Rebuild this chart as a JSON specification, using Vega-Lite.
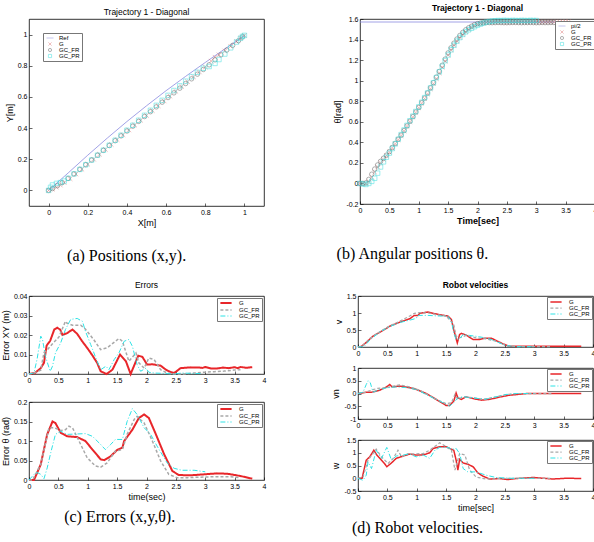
{
"$schema": "https://vega.github.io/schema/vega-lite/v6.json",
"background": "white",
"padding": {"left": 0, "top": 3, "right": 0, "bottom": 0},
"config": {
  "view": {"stroke": "#000", "strokeWidth": 0.8},
  "axis": {"grid": false, "domain": false, "ticks": true, "tickSize": -3, "tickColor": "#000", "tickWidth": 0.6, "labelFont": "Liberation Sans", "labelFontSize": 7, "labelColor": "#000", "labelPadding": 5, "labelFlush": false, "labelOverlap": false, "titleFont": "Liberation Sans", "titleFontSize": 9, "titleFontWeight": "normal", "titleColor": "#000", "titlePadding": 3},
  "title": {"font": "Liberation Sans", "fontSize": 8.5, "fontWeight": "normal", "color": "#000", "offset": 3},
  "legend": {"title": null, "padding": 2, "strokeColor": "#777", "fillColor": "#fff", "labelFont": "Liberation Sans", "labelFontSize": 6, "labelColor": "#000", "rowPadding": 0, "labelOffset": 3, "symbolStrokeWidth": 0.7}
},
"datasets": {
  "pos": [
    {"s":"Ref","x":0,"y":0},{"s":"Ref","x":0.1,"y":0.112},{"s":"Ref","x":0.2,"y":0.226},{"s":"Ref","x":0.3,"y":0.336},{"s":"Ref","x":0.4,"y":0.442},{"s":"Ref","x":0.5,"y":0.543},{"s":"Ref","x":0.6,"y":0.64},{"s":"Ref","x":0.7,"y":0.732},{"s":"Ref","x":0.8,"y":0.821},{"s":"Ref","x":0.9,"y":0.908},{"s":"Ref","x":1,"y":0.993},
    {"s":"G","x":0,"y":0},{"s":"G","x":0.02,"y":0.008},{"s":"G","x":0.04,"y":0.02},{"s":"G","x":0.06,"y":0.034},{"s":"G","x":0.08,"y":0.05},{"s":"G","x":0.11,"y":0.075},{"s":"G","x":0.14,"y":0.105},{"s":"G","x":0.17,"y":0.136},{"s":"G","x":0.2,"y":0.168},{"s":"G","x":0.23,"y":0.2},{"s":"G","x":0.26,"y":0.232},{"s":"G","x":0.29,"y":0.263},{"s":"G","x":0.32,"y":0.295},{"s":"G","x":0.35,"y":0.326},{"s":"G","x":0.38,"y":0.357},{"s":"G","x":0.41,"y":0.388},{"s":"G","x":0.44,"y":0.419},{"s":"G","x":0.47,"y":0.45},{"s":"G","x":0.5,"y":0.481},{"s":"G","x":0.53,"y":0.512},{"s":"G","x":0.56,"y":0.543},{"s":"G","x":0.59,"y":0.574},{"s":"G","x":0.62,"y":0.605},{"s":"G","x":0.65,"y":0.636},{"s":"G","x":0.68,"y":0.667},{"s":"G","x":0.71,"y":0.698},{"s":"G","x":0.74,"y":0.729},{"s":"G","x":0.77,"y":0.76},{"s":"G","x":0.8,"y":0.792},{"s":"G","x":0.83,"y":0.83},{"s":"G","x":0.85,"y":0.855},{"s":"G","x":0.87,"y":0.87},{"s":"G","x":0.9,"y":0.895},{"s":"G","x":0.93,"y":0.925},{"s":"G","x":0.96,"y":0.955},{"s":"G","x":0.98,"y":0.977},{"s":"G","x":1.0,"y":0.995},
    {"s":"GC_FR","x":0,"y":0},{"s":"GC_FR","x":0.02,"y":0.012},{"s":"GC_FR","x":0.045,"y":0.03},{"s":"GC_FR","x":0.07,"y":0.05},{"s":"GC_FR","x":0.1,"y":0.077},{"s":"GC_FR","x":0.13,"y":0.106},{"s":"GC_FR","x":0.16,"y":0.135},{"s":"GC_FR","x":0.19,"y":0.165},{"s":"GC_FR","x":0.22,"y":0.195},{"s":"GC_FR","x":0.25,"y":0.226},{"s":"GC_FR","x":0.28,"y":0.257},{"s":"GC_FR","x":0.31,"y":0.288},{"s":"GC_FR","x":0.34,"y":0.319},{"s":"GC_FR","x":0.37,"y":0.35},{"s":"GC_FR","x":0.4,"y":0.381},{"s":"GC_FR","x":0.43,"y":0.412},{"s":"GC_FR","x":0.46,"y":0.443},{"s":"GC_FR","x":0.49,"y":0.474},{"s":"GC_FR","x":0.52,"y":0.505},{"s":"GC_FR","x":0.55,"y":0.536},{"s":"GC_FR","x":0.58,"y":0.566},{"s":"GC_FR","x":0.61,"y":0.596},{"s":"GC_FR","x":0.64,"y":0.626},{"s":"GC_FR","x":0.67,"y":0.656},{"s":"GC_FR","x":0.7,"y":0.686},{"s":"GC_FR","x":0.73,"y":0.716},{"s":"GC_FR","x":0.76,"y":0.746},{"s":"GC_FR","x":0.79,"y":0.776},{"s":"GC_FR","x":0.82,"y":0.806},{"s":"GC_FR","x":0.85,"y":0.838},{"s":"GC_FR","x":0.88,"y":0.87},{"s":"GC_FR","x":0.91,"y":0.901},{"s":"GC_FR","x":0.94,"y":0.931},{"s":"GC_FR","x":0.97,"y":0.961},{"s":"GC_FR","x":0.99,"y":0.985},
    {"s":"GC_PR","x":0,"y":0},{"s":"GC_PR","x":0.01,"y":0.02},{"s":"GC_PR","x":0.02,"y":0.035},{"s":"GC_PR","x":0.04,"y":0.045},{"s":"GC_PR","x":0.06,"y":0.05},{"s":"GC_PR","x":0.08,"y":0.06},{"s":"GC_PR","x":0.1,"y":0.078},{"s":"GC_PR","x":0.13,"y":0.106},{"s":"GC_PR","x":0.16,"y":0.135},{"s":"GC_PR","x":0.19,"y":0.165},{"s":"GC_PR","x":0.22,"y":0.195},{"s":"GC_PR","x":0.25,"y":0.226},{"s":"GC_PR","x":0.28,"y":0.258},{"s":"GC_PR","x":0.31,"y":0.29},{"s":"GC_PR","x":0.34,"y":0.322},{"s":"GC_PR","x":0.37,"y":0.354},{"s":"GC_PR","x":0.4,"y":0.386},{"s":"GC_PR","x":0.43,"y":0.418},{"s":"GC_PR","x":0.46,"y":0.45},{"s":"GC_PR","x":0.49,"y":0.482},{"s":"GC_PR","x":0.52,"y":0.514},{"s":"GC_PR","x":0.55,"y":0.546},{"s":"GC_PR","x":0.58,"y":0.578},{"s":"GC_PR","x":0.61,"y":0.61},{"s":"GC_PR","x":0.64,"y":0.641},{"s":"GC_PR","x":0.67,"y":0.671},{"s":"GC_PR","x":0.7,"y":0.701},{"s":"GC_PR","x":0.73,"y":0.73},{"s":"GC_PR","x":0.76,"y":0.758},{"s":"GC_PR","x":0.79,"y":0.784},{"s":"GC_PR","x":0.82,"y":0.795},{"s":"GC_PR","x":0.85,"y":0.815},{"s":"GC_PR","x":0.87,"y":0.84},{"s":"GC_PR","x":0.9,"y":0.875},{"s":"GC_PR","x":0.93,"y":0.915},{"s":"GC_PR","x":0.96,"y":0.952},{"s":"GC_PR","x":0.98,"y":0.976},{"s":"GC_PR","x":0.99,"y":0.988},{"s":"GC_PR","x":1.0,"y":0.995}
  ],
  "theta": [
    {"s":"pi/2","t":0,"y":1.5708},{"s":"pi/2","t":4,"y":1.5708},
    {"s":"G","t":0,"y":0},{"s":"G","t":0.05,"y":0},{"s":"G","t":0.1,"y":0},{"s":"G","t":0.15,"y":0.02},{"s":"G","t":0.2,"y":0.06},{"s":"G","t":0.25,"y":0.11},{"s":"G","t":0.3,"y":0.16},{"s":"G","t":0.35,"y":0.2},{"s":"G","t":0.4,"y":0.235},{"s":"G","t":0.45,"y":0.27},{"s":"G","t":0.5,"y":0.305},{"s":"G","t":0.55,"y":0.345},{"s":"G","t":0.6,"y":0.385},{"s":"G","t":0.65,"y":0.425},{"s":"G","t":0.7,"y":0.465},{"s":"G","t":0.75,"y":0.51},{"s":"G","t":0.8,"y":0.555},{"s":"G","t":0.85,"y":0.6},{"s":"G","t":0.9,"y":0.645},{"s":"G","t":0.95,"y":0.69},{"s":"G","t":1.0,"y":0.735},{"s":"G","t":1.05,"y":0.78},{"s":"G","t":1.1,"y":0.825},{"s":"G","t":1.15,"y":0.87},{"s":"G","t":1.2,"y":0.92},{"s":"G","t":1.25,"y":0.97},{"s":"G","t":1.3,"y":1.02},{"s":"G","t":1.35,"y":1.075},{"s":"G","t":1.4,"y":1.13},{"s":"G","t":1.45,"y":1.19},{"s":"G","t":1.5,"y":1.25},{"s":"G","t":1.55,"y":1.3},{"s":"G","t":1.6,"y":1.345},{"s":"G","t":1.65,"y":1.385},{"s":"G","t":1.7,"y":1.42},{"s":"G","t":1.75,"y":1.45},{"s":"G","t":1.8,"y":1.475},{"s":"G","t":1.85,"y":1.5},{"s":"G","t":1.9,"y":1.52},{"s":"G","t":1.95,"y":1.535},{"s":"G","t":2.0,"y":1.548},{"s":"G","t":2.05,"y":1.557},{"s":"G","t":2.1,"y":1.563},{"s":"G","t":2.15,"y":1.567},{"s":"G","t":2.2,"y":1.57},{"s":"G","t":2.25,"y":1.571},{"s":"G","t":2.3,"y":1.572},{"s":"G","t":2.35,"y":1.571},{"s":"G","t":2.4,"y":1.57},{"s":"G","t":2.45,"y":1.569},{"s":"G","t":2.5,"y":1.569},{"s":"G","t":2.55,"y":1.57},{"s":"G","t":2.6,"y":1.571},{"s":"G","t":2.65,"y":1.572},{"s":"G","t":2.7,"y":1.572},{"s":"G","t":2.75,"y":1.571},{"s":"G","t":2.8,"y":1.57},{"s":"G","t":2.85,"y":1.57},{"s":"G","t":2.9,"y":1.571},{"s":"G","t":2.95,"y":1.571},{"s":"G","t":3.0,"y":1.572},{"s":"G","t":3.05,"y":1.571},{"s":"G","t":3.1,"y":1.57},{"s":"G","t":3.15,"y":1.57},{"s":"G","t":3.2,"y":1.571},{"s":"G","t":3.25,"y":1.572},{"s":"G","t":3.3,"y":1.572},{"s":"G","t":3.35,"y":1.571},{"s":"G","t":3.4,"y":1.571},{"s":"G","t":3.45,"y":1.572},{"s":"G","t":3.5,"y":1.573},{"s":"G","t":3.55,"y":1.573},
    {"s":"GC_FR","t":0,"y":0},{"s":"GC_FR","t":0.05,"y":0},{"s":"GC_FR","t":0.1,"y":0.005},{"s":"GC_FR","t":0.15,"y":0.04},{"s":"GC_FR","t":0.2,"y":0.09},{"s":"GC_FR","t":0.25,"y":0.14},{"s":"GC_FR","t":0.3,"y":0.18},{"s":"GC_FR","t":0.35,"y":0.215},{"s":"GC_FR","t":0.4,"y":0.245},{"s":"GC_FR","t":0.45,"y":0.275},{"s":"GC_FR","t":0.5,"y":0.31},{"s":"GC_FR","t":0.55,"y":0.35},{"s":"GC_FR","t":0.6,"y":0.39},{"s":"GC_FR","t":0.65,"y":0.43},{"s":"GC_FR","t":0.7,"y":0.47},{"s":"GC_FR","t":0.75,"y":0.515},{"s":"GC_FR","t":0.8,"y":0.56},{"s":"GC_FR","t":0.85,"y":0.605},{"s":"GC_FR","t":0.9,"y":0.65},{"s":"GC_FR","t":0.95,"y":0.695},{"s":"GC_FR","t":1.0,"y":0.74},{"s":"GC_FR","t":1.05,"y":0.785},{"s":"GC_FR","t":1.1,"y":0.83},{"s":"GC_FR","t":1.15,"y":0.88},{"s":"GC_FR","t":1.2,"y":0.93},{"s":"GC_FR","t":1.25,"y":0.98},{"s":"GC_FR","t":1.3,"y":1.035},{"s":"GC_FR","t":1.35,"y":1.09},{"s":"GC_FR","t":1.4,"y":1.15},{"s":"GC_FR","t":1.45,"y":1.21},{"s":"GC_FR","t":1.5,"y":1.27},{"s":"GC_FR","t":1.55,"y":1.32},{"s":"GC_FR","t":1.6,"y":1.365},{"s":"GC_FR","t":1.65,"y":1.405},{"s":"GC_FR","t":1.7,"y":1.44},{"s":"GC_FR","t":1.75,"y":1.47},{"s":"GC_FR","t":1.8,"y":1.495},{"s":"GC_FR","t":1.85,"y":1.515},{"s":"GC_FR","t":1.9,"y":1.53},{"s":"GC_FR","t":1.95,"y":1.545},{"s":"GC_FR","t":2.0,"y":1.555},{"s":"GC_FR","t":2.05,"y":1.56},{"s":"GC_FR","t":2.1,"y":1.563},{"s":"GC_FR","t":2.15,"y":1.565},{"s":"GC_FR","t":2.2,"y":1.565},{"s":"GC_FR","t":2.25,"y":1.564},{"s":"GC_FR","t":2.3,"y":1.565},{"s":"GC_FR","t":2.35,"y":1.566},{"s":"GC_FR","t":2.4,"y":1.565},{"s":"GC_FR","t":2.45,"y":1.564},{"s":"GC_FR","t":2.5,"y":1.564},{"s":"GC_FR","t":2.55,"y":1.565},{"s":"GC_FR","t":2.6,"y":1.566},{"s":"GC_FR","t":2.65,"y":1.566},{"s":"GC_FR","t":2.7,"y":1.565},{"s":"GC_FR","t":2.75,"y":1.564},{"s":"GC_FR","t":2.8,"y":1.565},{"s":"GC_FR","t":2.85,"y":1.565},{"s":"GC_FR","t":2.9,"y":1.566},{"s":"GC_FR","t":2.95,"y":1.565},{"s":"GC_FR","t":3.0,"y":1.564},{"s":"GC_FR","t":3.05,"y":1.565},{"s":"GC_FR","t":3.1,"y":1.566},{"s":"GC_FR","t":3.15,"y":1.565},{"s":"GC_FR","t":3.2,"y":1.565},{"s":"GC_FR","t":3.25,"y":1.566},{"s":"GC_FR","t":3.3,"y":1.566},
    {"s":"GC_PR","t":0,"y":0},{"s":"GC_PR","t":0.05,"y":-0.005},{"s":"GC_PR","t":0.1,"y":-0.01},{"s":"GC_PR","t":0.15,"y":0},{"s":"GC_PR","t":0.2,"y":0.02},{"s":"GC_PR","t":0.25,"y":0.05},{"s":"GC_PR","t":0.3,"y":0.1},{"s":"GC_PR","t":0.35,"y":0.16},{"s":"GC_PR","t":0.4,"y":0.21},{"s":"GC_PR","t":0.45,"y":0.255},{"s":"GC_PR","t":0.5,"y":0.295},{"s":"GC_PR","t":0.55,"y":0.34},{"s":"GC_PR","t":0.6,"y":0.385},{"s":"GC_PR","t":0.65,"y":0.43},{"s":"GC_PR","t":0.7,"y":0.475},{"s":"GC_PR","t":0.75,"y":0.52},{"s":"GC_PR","t":0.8,"y":0.565},{"s":"GC_PR","t":0.85,"y":0.61},{"s":"GC_PR","t":0.9,"y":0.655},{"s":"GC_PR","t":0.95,"y":0.7},{"s":"GC_PR","t":1.0,"y":0.745},{"s":"GC_PR","t":1.05,"y":0.79},{"s":"GC_PR","t":1.1,"y":0.835},{"s":"GC_PR","t":1.15,"y":0.88},{"s":"GC_PR","t":1.2,"y":0.93},{"s":"GC_PR","t":1.25,"y":0.98},{"s":"GC_PR","t":1.3,"y":1.03},{"s":"GC_PR","t":1.35,"y":1.085},{"s":"GC_PR","t":1.4,"y":1.14},{"s":"GC_PR","t":1.45,"y":1.195},{"s":"GC_PR","t":1.5,"y":1.25},{"s":"GC_PR","t":1.55,"y":1.3},{"s":"GC_PR","t":1.6,"y":1.345},{"s":"GC_PR","t":1.65,"y":1.385},{"s":"GC_PR","t":1.7,"y":1.42},{"s":"GC_PR","t":1.75,"y":1.45},{"s":"GC_PR","t":1.8,"y":1.475},{"s":"GC_PR","t":1.85,"y":1.495},{"s":"GC_PR","t":1.9,"y":1.51},{"s":"GC_PR","t":1.95,"y":1.525},{"s":"GC_PR","t":2.0,"y":1.54},{"s":"GC_PR","t":2.05,"y":1.55},{"s":"GC_PR","t":2.1,"y":1.56},{"s":"GC_PR","t":2.15,"y":1.57},{"s":"GC_PR","t":2.2,"y":1.575},{"s":"GC_PR","t":2.25,"y":1.58},{"s":"GC_PR","t":2.3,"y":1.583},{"s":"GC_PR","t":2.35,"y":1.585},{"s":"GC_PR","t":2.4,"y":1.584},{"s":"GC_PR","t":2.45,"y":1.586},{"s":"GC_PR","t":2.5,"y":1.585},{"s":"GC_PR","t":2.55,"y":1.584},{"s":"GC_PR","t":2.6,"y":1.586},{"s":"GC_PR","t":2.65,"y":1.585},{"s":"GC_PR","t":2.7,"y":1.584},{"s":"GC_PR","t":2.75,"y":1.586},{"s":"GC_PR","t":2.8,"y":1.585},{"s":"GC_PR","t":2.85,"y":1.584},{"s":"GC_PR","t":2.9,"y":1.586},{"s":"GC_PR","t":2.95,"y":1.585},{"s":"GC_PR","t":3.0,"y":1.585}
  ],
  "exy": [
    {"s":"G","t":0,"y":0},{"s":"G","t":0.1,"y":0.0005},{"s":"G","t":0.2,"y":0.003},{"s":"G","t":0.255,"y":0.0057},{"s":"G","t":0.3,"y":0.0146},{"s":"G","t":0.36,"y":0.017},{"s":"G","t":0.43,"y":0.0228},{"s":"G","t":0.48,"y":0.0237},{"s":"G","t":0.53,"y":0.0228},{"s":"G","t":0.57,"y":0.02},{"s":"G","t":0.65,"y":0.021},{"s":"G","t":0.74,"y":0.0228},{"s":"G","t":0.82,"y":0.0206},{"s":"G","t":0.9,"y":0.017},{"s":"G","t":0.99,"y":0.0134},{"s":"G","t":1.08,"y":0.0095},{"s":"G","t":1.16,"y":0.0057},{"s":"G","t":1.22,"y":0.0014},{"s":"G","t":1.32,"y":0},{"s":"G","t":1.42,"y":0.0022},{"s":"G","t":1.55,"y":0.01},{"s":"G","t":1.65,"y":0.0065},{"s":"G","t":1.73,"y":0},{"s":"G","t":1.86,"y":0.0094},{"s":"G","t":1.93,"y":0.0088},{"s":"G","t":2.01,"y":0.0048},{"s":"G","t":2.1,"y":0.005},{"s":"G","t":2.24,"y":0.0043},{"s":"G","t":2.33,"y":0.0022},{"s":"G","t":2.41,"y":0.001},{"s":"G","t":2.47,"y":0.0005},{"s":"G","t":2.58,"y":0.003},{"s":"G","t":2.75,"y":0.0034},{"s":"G","t":2.9,"y":0.0033},{"s":"G","t":2.95,"y":0.0031},{"s":"G","t":3.0,"y":0.0036},{"s":"G","t":3.1,"y":0.0028},{"s":"G","t":3.2,"y":0.0028},{"s":"G","t":3.3,"y":0.0033},{"s":"G","t":3.4,"y":0.003},{"s":"G","t":3.5,"y":0.0035},{"s":"G","t":3.55,"y":0.003},{"s":"G","t":3.6,"y":0.0036},{"s":"G","t":3.7,"y":0.0032},{"s":"G","t":3.8,"y":0.0035},
    {"s":"GC_FR","t":0,"y":0},{"s":"GC_FR","t":0.085,"y":0.0005},{"s":"GC_FR","t":0.2,"y":0.002},{"s":"GC_FR","t":0.255,"y":0.011},{"s":"GC_FR","t":0.3,"y":0.012},{"s":"GC_FR","t":0.4,"y":0.0155},{"s":"GC_FR","t":0.51,"y":0.019},{"s":"GC_FR","t":0.62,"y":0.027},{"s":"GC_FR","t":0.65,"y":0.026},{"s":"GC_FR","t":0.74,"y":0.025},{"s":"GC_FR","t":0.88,"y":0.025},{"s":"GC_FR","t":0.96,"y":0.023},{"s":"GC_FR","t":1.1,"y":0.0177},{"s":"GC_FR","t":1.22,"y":0.0125},{"s":"GC_FR","t":1.33,"y":0.0134},{"s":"GC_FR","t":1.53,"y":0.0182},{"s":"GC_FR","t":1.59,"y":0.0168},{"s":"GC_FR","t":1.7,"y":0.0065},{"s":"GC_FR","t":1.82,"y":0.0108},{"s":"GC_FR","t":1.87,"y":0.0057},{"s":"GC_FR","t":1.96,"y":0.003},{"s":"GC_FR","t":2.04,"y":0.0082},{"s":"GC_FR","t":2.13,"y":0.0074},{"s":"GC_FR","t":2.24,"y":0.0022},{"s":"GC_FR","t":2.35,"y":0.0005},{"s":"GC_FR","t":2.47,"y":0},{"s":"GC_FR","t":2.64,"y":0},{"s":"GC_FR","t":2.81,"y":0.0005},{"s":"GC_FR","t":2.98,"y":0.0009},{"s":"GC_FR","t":3.15,"y":0.0012},{"s":"GC_FR","t":3.32,"y":0.0015},{"s":"GC_FR","t":3.49,"y":0.002},{"s":"GC_FR","t":3.6,"y":0.0022},
    {"s":"GC_PR","t":0,"y":0},{"s":"GC_PR","t":0.085,"y":0.0005},{"s":"GC_PR","t":0.14,"y":0.008},{"s":"GC_PR","t":0.2,"y":0.0194},{"s":"GC_PR","t":0.23,"y":0.0177},{"s":"GC_PR","t":0.28,"y":0.009},{"s":"GC_PR","t":0.36,"y":0.0014},{"s":"GC_PR","t":0.4,"y":0.004},{"s":"GC_PR","t":0.45,"y":0.0108},{"s":"GC_PR","t":0.54,"y":0.016},{"s":"GC_PR","t":0.62,"y":0.0228},{"s":"GC_PR","t":0.71,"y":0.028},{"s":"GC_PR","t":0.82,"y":0.0285},{"s":"GC_PR","t":0.91,"y":0.027},{"s":"GC_PR","t":0.96,"y":0.022},{"s":"GC_PR","t":1.05,"y":0.0151},{"s":"GC_PR","t":1.16,"y":0.0065},{"s":"GC_PR","t":1.22,"y":0.0022},{"s":"GC_PR","t":1.31,"y":0.004},{"s":"GC_PR","t":1.36,"y":0.0022},{"s":"GC_PR","t":1.45,"y":0.0074},{"s":"GC_PR","t":1.53,"y":0.0108},{"s":"GC_PR","t":1.62,"y":0.0168},{"s":"GC_PR","t":1.7,"y":0.0177},{"s":"GC_PR","t":1.76,"y":0.0142},{"s":"GC_PR","t":1.84,"y":0.0048},{"s":"GC_PR","t":1.9,"y":0.0014},{"s":"GC_PR","t":1.99,"y":0.003},{"s":"GC_PR","t":2.04,"y":0.0009},{"s":"GC_PR","t":2.13,"y":0.0005},{"s":"GC_PR","t":2.3,"y":0.0003},{"s":"GC_PR","t":2.47,"y":0},{"s":"GC_PR","t":2.6,"y":0.0005},{"s":"GC_PR","t":2.8,"y":0.0003},{"s":"GC_PR","t":2.95,"y":0.0002}
  ],
  "eth": [
    {"s":"G","t":0,"y":0},{"s":"G","t":0.085,"y":0},{"s":"G","t":0.2,"y":0.04},{"s":"G","t":0.31,"y":0.117},{"s":"G","t":0.4,"y":0.15},{"s":"G","t":0.45,"y":0.146},{"s":"G","t":0.54,"y":0.121},{"s":"G","t":0.65,"y":0.112},{"s":"G","t":0.82,"y":0.11},{"s":"G","t":0.96,"y":0.1},{"s":"G","t":1.08,"y":0.078},{"s":"G","t":1.22,"y":0.053},{"s":"G","t":1.28,"y":0.051},{"s":"G","t":1.39,"y":0.061},{"s":"G","t":1.5,"y":0.077},{"s":"G","t":1.59,"y":0.083},{"s":"G","t":1.62,"y":0.1},{"s":"G","t":1.76,"y":0.129},{"s":"G","t":1.87,"y":0.159},{"s":"G","t":1.96,"y":0.168},{"s":"G","t":2.04,"y":0.159},{"s":"G","t":2.16,"y":0.117},{"s":"G","t":2.3,"y":0.066},{"s":"G","t":2.44,"y":0.023},{"s":"G","t":2.55,"y":0.0128},{"s":"G","t":2.75,"y":0.012},{"s":"G","t":2.98,"y":0.0145},{"s":"G","t":3.2,"y":0.017},{"s":"G","t":3.38,"y":0.016},{"s":"G","t":3.6,"y":0.0102},{"s":"G","t":3.8,"y":0.0034},
    {"s":"GC_FR","t":0,"y":0},{"s":"GC_FR","t":0.06,"y":0},{"s":"GC_FR","t":0.2,"y":0.04},{"s":"GC_FR","t":0.34,"y":0.134},{"s":"GC_FR","t":0.43,"y":0.134},{"s":"GC_FR","t":0.54,"y":0.127},{"s":"GC_FR","t":0.62,"y":0.129},{"s":"GC_FR","t":0.68,"y":0.138},{"s":"GC_FR","t":0.74,"y":0.134},{"s":"GC_FR","t":0.88,"y":0.091},{"s":"GC_FR","t":0.99,"y":0.057},{"s":"GC_FR","t":1.13,"y":0.036},{"s":"GC_FR","t":1.22,"y":0.033},{"s":"GC_FR","t":1.33,"y":0.044},{"s":"GC_FR","t":1.47,"y":0.074},{"s":"GC_FR","t":1.59,"y":0.078},{"s":"GC_FR","t":1.67,"y":0.117},{"s":"GC_FR","t":1.79,"y":0.155},{"s":"GC_FR","t":1.84,"y":0.163},{"s":"GC_FR","t":1.96,"y":0.146},{"s":"GC_FR","t":2.1,"y":0.1},{"s":"GC_FR","t":2.24,"y":0.049},{"s":"GC_FR","t":2.38,"y":0.0145},{"s":"GC_FR","t":2.52,"y":0.006},{"s":"GC_FR","t":2.7,"y":0.006},{"s":"GC_FR","t":2.98,"y":0.0077},{"s":"GC_FR","t":3.2,"y":0.0085},{"s":"GC_FR","t":3.43,"y":0.0085},{"s":"GC_FR","t":3.6,"y":0.006},
    {"s":"GC_PR","t":0,"y":0},{"s":"GC_PR","t":0.085,"y":0.0145},{"s":"GC_PR","t":0.14,"y":0.019},{"s":"GC_PR","t":0.2,"y":0.0145},{"s":"GC_PR","t":0.255,"y":0.0034},{"s":"GC_PR","t":0.31,"y":0.031},{"s":"GC_PR","t":0.37,"y":0.07},{"s":"GC_PR","t":0.45,"y":0.117},{"s":"GC_PR","t":0.54,"y":0.125},{"s":"GC_PR","t":0.65,"y":0.117},{"s":"GC_PR","t":0.82,"y":0.118},{"s":"GC_PR","t":0.96,"y":0.119},{"s":"GC_PR","t":1.08,"y":0.112},{"s":"GC_PR","t":1.22,"y":0.091},{"s":"GC_PR","t":1.3,"y":0.078},{"s":"GC_PR","t":1.39,"y":0.091},{"s":"GC_PR","t":1.47,"y":0.104},{"s":"GC_PR","t":1.59,"y":0.104},{"s":"GC_PR","t":1.67,"y":0.15},{"s":"GC_PR","t":1.76,"y":0.183},{"s":"GC_PR","t":1.84,"y":0.168},{"s":"GC_PR","t":1.96,"y":0.134},{"s":"GC_PR","t":2.07,"y":0.117},{"s":"GC_PR","t":2.18,"y":0.087},{"s":"GC_PR","t":2.35,"y":0.044},{"s":"GC_PR","t":2.47,"y":0.03},{"s":"GC_PR","t":2.6,"y":0.025},{"s":"GC_PR","t":2.81,"y":0.025},{"s":"GC_PR","t":3.0,"y":0.021}
  ],
  "v": [
    {"s":"G","t":0,"y":0},{"s":"G","t":0.06,"y":0.02},{"s":"G","t":0.15,"y":0.15},{"s":"G","t":0.255,"y":0.32},{"s":"G","t":0.37,"y":0.43},{"s":"G","t":0.54,"y":0.61},{"s":"G","t":0.71,"y":0.73},{"s":"G","t":0.88,"y":0.83},{"s":"G","t":0.96,"y":0.93},{"s":"G","t":1.02,"y":0.93},{"s":"G","t":1.05,"y":0.99},{"s":"G","t":1.19,"y":1.03},{"s":"G","t":1.28,"y":0.99},{"s":"G","t":1.42,"y":0.94},{"s":"G","t":1.53,"y":0.91},{"s":"G","t":1.59,"y":0.81},{"s":"G","t":1.63,"y":0.51},{"s":"G","t":1.69,"y":0.12},{"s":"G","t":1.73,"y":0.37},{"s":"G","t":1.76,"y":0.4},{"s":"G","t":1.84,"y":0.35},{"s":"G","t":1.96,"y":0.22},{"s":"G","t":2.07,"y":0.22},{"s":"G","t":2.16,"y":0.26},{"s":"G","t":2.27,"y":0.26},{"s":"G","t":2.35,"y":0.19},{"s":"G","t":2.47,"y":0.09},{"s":"G","t":2.58,"y":0.02},{"s":"G","t":2.8,"y":0.02},{"s":"G","t":3.2,"y":0.02},{"s":"G","t":3.5,"y":0.02},{"s":"G","t":3.8,"y":0.02},
    {"s":"GC_FR","t":0,"y":0},{"s":"GC_FR","t":0.06,"y":0.01},{"s":"GC_FR","t":0.2,"y":0.25},{"s":"GC_FR","t":0.37,"y":0.45},{"s":"GC_FR","t":0.54,"y":0.62},{"s":"GC_FR","t":0.71,"y":0.76},{"s":"GC_FR","t":0.88,"y":0.91},{"s":"GC_FR","t":0.96,"y":0.99},{"s":"GC_FR","t":1.05,"y":1.01},{"s":"GC_FR","t":1.2,"y":1.0},{"s":"GC_FR","t":1.35,"y":0.95},{"s":"GC_FR","t":1.5,"y":0.91},{"s":"GC_FR","t":1.63,"y":0.66},{"s":"GC_FR","t":1.67,"y":0.32},{"s":"GC_FR","t":1.73,"y":0.27},{"s":"GC_FR","t":1.84,"y":0.34},{"s":"GC_FR","t":2.01,"y":0.27},{"s":"GC_FR","t":2.18,"y":0.24},{"s":"GC_FR","t":2.35,"y":0.17},{"s":"GC_FR","t":2.52,"y":0.04},{"s":"GC_FR","t":2.7,"y":0.01},{"s":"GC_FR","t":3.3,"y":0.01},
    {"s":"GC_PR","t":0,"y":0},{"s":"GC_PR","t":0.1,"y":0.01},{"s":"GC_PR","t":0.2,"y":0.2},{"s":"GC_PR","t":0.37,"y":0.44},{"s":"GC_PR","t":0.54,"y":0.6},{"s":"GC_PR","t":0.71,"y":0.72},{"s":"GC_PR","t":0.88,"y":0.79},{"s":"GC_PR","t":0.99,"y":0.84},{"s":"GC_PR","t":1.02,"y":0.93},{"s":"GC_PR","t":1.19,"y":0.93},{"s":"GC_PR","t":1.39,"y":0.91},{"s":"GC_PR","t":1.53,"y":0.91},{"s":"GC_PR","t":1.59,"y":0.76},{"s":"GC_PR","t":1.63,"y":0.41},{"s":"GC_PR","t":1.67,"y":0.22},{"s":"GC_PR","t":1.73,"y":0.24},{"s":"GC_PR","t":1.79,"y":0.37},{"s":"GC_PR","t":1.9,"y":0.34},{"s":"GC_PR","t":2.07,"y":0.3},{"s":"GC_PR","t":2.24,"y":0.24},{"s":"GC_PR","t":2.41,"y":0.12},{"s":"GC_PR","t":2.52,"y":0.04},{"s":"GC_PR","t":2.7,"y":0.01},{"s":"GC_PR","t":3.0,"y":0.01}
  ],
  "vn": [
    {"s":"G","t":0,"y":0},{"s":"G","t":0.14,"y":0.05},{"s":"G","t":0.23,"y":0.05},{"s":"G","t":0.37,"y":0.13},{"s":"G","t":0.48,"y":0.25},{"s":"G","t":0.54,"y":0.35},{"s":"G","t":0.58,"y":0.26},{"s":"G","t":0.71,"y":0.29},{"s":"G","t":0.88,"y":0.23},{"s":"G","t":0.99,"y":0.16},{"s":"G","t":1.16,"y":0},{"s":"G","t":1.33,"y":-0.23},{"s":"G","t":1.5,"y":-0.47},{"s":"G","t":1.56,"y":-0.47},{"s":"G","t":1.63,"y":-0.3},{"s":"G","t":1.67,"y":0.02},{"s":"G","t":1.7,"y":-0.17},{"s":"G","t":1.76,"y":-0.23},{"s":"G","t":1.84,"y":-0.13},{"s":"G","t":1.96,"y":-0.2},{"s":"G","t":2.1,"y":-0.26},{"s":"G","t":2.24,"y":-0.23},{"s":"G","t":2.41,"y":-0.14},{"s":"G","t":2.58,"y":-0.065},{"s":"G","t":2.75,"y":-0.03},{"s":"G","t":2.87,"y":0},{"s":"G","t":3.3,"y":0},{"s":"G","t":3.8,"y":0},
    {"s":"GC_FR","t":0,"y":0},{"s":"GC_FR","t":0.1,"y":0.03},{"s":"GC_FR","t":0.255,"y":0.15},{"s":"GC_FR","t":0.33,"y":0.2},{"s":"GC_FR","t":0.48,"y":0.22},{"s":"GC_FR","t":0.6,"y":0.29},{"s":"GC_FR","t":0.71,"y":0.34},{"s":"GC_FR","t":0.88,"y":0.26},{"s":"GC_FR","t":1.05,"y":0.13},{"s":"GC_FR","t":1.28,"y":-0.17},{"s":"GC_FR","t":1.5,"y":-0.4},{"s":"GC_FR","t":1.59,"y":-0.36},{"s":"GC_FR","t":1.65,"y":-0.04},{"s":"GC_FR","t":1.7,"y":-0.23},{"s":"GC_FR","t":1.79,"y":-0.13},{"s":"GC_FR","t":1.96,"y":-0.17},{"s":"GC_FR","t":2.13,"y":-0.23},{"s":"GC_FR","t":2.35,"y":-0.13},{"s":"GC_FR","t":2.52,"y":-0.04},{"s":"GC_FR","t":2.7,"y":0},{"s":"GC_FR","t":3.3,"y":0},
    {"s":"GC_PR","t":0,"y":0},{"s":"GC_PR","t":0.085,"y":0.05},{"s":"GC_PR","t":0.14,"y":0.35},{"s":"GC_PR","t":0.17,"y":0.5},{"s":"GC_PR","t":0.21,"y":0.42},{"s":"GC_PR","t":0.255,"y":0.05},{"s":"GC_PR","t":0.34,"y":0.13},{"s":"GC_PR","t":0.48,"y":0.22},{"s":"GC_PR","t":0.65,"y":0.26},{"s":"GC_PR","t":0.82,"y":0.23},{"s":"GC_PR","t":0.99,"y":0.16},{"s":"GC_PR","t":1.16,"y":-0.04},{"s":"GC_PR","t":1.39,"y":-0.3},{"s":"GC_PR","t":1.56,"y":-0.49},{"s":"GC_PR","t":1.63,"y":-0.36},{"s":"GC_PR","t":1.7,"y":-0.17},{"s":"GC_PR","t":1.79,"y":-0.13},{"s":"GC_PR","t":1.96,"y":-0.17},{"s":"GC_PR","t":2.16,"y":-0.23},{"s":"GC_PR","t":2.35,"y":-0.13},{"s":"GC_PR","t":2.52,"y":-0.04},{"s":"GC_PR","t":2.7,"y":0},{"s":"GC_PR","t":3.0,"y":0}
  ],
  "w": [
    {"s":"G","t":0,"y":0},{"s":"G","t":0.07,"y":0},{"s":"G","t":0.14,"y":0.71},{"s":"G","t":0.2,"y":0.84},{"s":"G","t":0.27,"y":1.1},{"s":"G","t":0.32,"y":0.91},{"s":"G","t":0.4,"y":0.71},{"s":"G","t":0.45,"y":0.58},{"s":"G","t":0.49,"y":0.45},{"s":"G","t":0.57,"y":0.6},{"s":"G","t":0.65,"y":0.78},{"s":"G","t":0.77,"y":0.87},{"s":"G","t":0.88,"y":0.95},{"s":"G","t":0.99,"y":0.91},{"s":"G","t":1.08,"y":0.91},{"s":"G","t":1.16,"y":0.95},{"s":"G","t":1.22,"y":1.0},{"s":"G","t":1.28,"y":1.17},{"s":"G","t":1.39,"y":1.24},{"s":"G","t":1.5,"y":1.24},{"s":"G","t":1.56,"y":1.17},{"s":"G","t":1.63,"y":1.1},{"s":"G","t":1.67,"y":0.71},{"s":"G","t":1.7,"y":0.32},{"s":"G","t":1.73,"y":0.74},{"s":"G","t":1.79,"y":0.6},{"s":"G","t":1.87,"y":0.55},{"s":"G","t":1.96,"y":0.45},{"s":"G","t":2.04,"y":0.21},{"s":"G","t":2.13,"y":0.08},{"s":"G","t":2.24,"y":-0.03},{"s":"G","t":2.41,"y":-0.01},{"s":"G","t":2.55,"y":-0.05},{"s":"G","t":2.7,"y":-0.01},{"s":"G","t":2.98,"y":0.03},{"s":"G","t":3.15,"y":0},{"s":"G","t":3.32,"y":-0.03},{"s":"G","t":3.55,"y":0},{"s":"G","t":3.8,"y":-0.01},
    {"s":"GC_FR","t":0,"y":0},{"s":"GC_FR","t":0.085,"y":0.05},{"s":"GC_FR","t":0.17,"y":0.71},{"s":"GC_FR","t":0.255,"y":0.97},{"s":"GC_FR","t":0.31,"y":1.14},{"s":"GC_FR","t":0.4,"y":0.84},{"s":"GC_FR","t":0.51,"y":0.58},{"s":"GC_FR","t":0.6,"y":0.78},{"s":"GC_FR","t":0.68,"y":1.1},{"s":"GC_FR","t":0.74,"y":0.84},{"s":"GC_FR","t":0.85,"y":0.97},{"s":"GC_FR","t":0.96,"y":0.95},{"s":"GC_FR","t":1.11,"y":0.97},{"s":"GC_FR","t":1.22,"y":1.1},{"s":"GC_FR","t":1.39,"y":1.39},{"s":"GC_FR","t":1.5,"y":1.24},{"s":"GC_FR","t":1.59,"y":1.1},{"s":"GC_FR","t":1.65,"y":0.32},{"s":"GC_FR","t":1.73,"y":0.97},{"s":"GC_FR","t":1.82,"y":0.91},{"s":"GC_FR","t":1.9,"y":0.32},{"s":"GC_FR","t":2.01,"y":0.05},{"s":"GC_FR","t":2.18,"y":-0.03},{"s":"GC_FR","t":2.41,"y":-0.01},{"s":"GC_FR","t":2.7,"y":0},{"s":"GC_FR","t":3.3,"y":0},
    {"s":"GC_PR","t":0,"y":0},{"s":"GC_PR","t":0.085,"y":-0.08},{"s":"GC_PR","t":0.14,"y":0.12},{"s":"GC_PR","t":0.17,"y":0.64},{"s":"GC_PR","t":0.23,"y":0.38},{"s":"GC_PR","t":0.31,"y":1.1},{"s":"GC_PR","t":0.4,"y":0.78},{"s":"GC_PR","t":0.49,"y":1.21},{"s":"GC_PR","t":0.57,"y":0.71},{"s":"GC_PR","t":0.65,"y":0.87},{"s":"GC_PR","t":0.77,"y":0.91},{"s":"GC_PR","t":0.88,"y":0.95},{"s":"GC_PR","t":0.99,"y":0.84},{"s":"GC_PR","t":1.11,"y":0.91},{"s":"GC_PR","t":1.22,"y":0.78},{"s":"GC_PR","t":1.31,"y":1.1},{"s":"GC_PR","t":1.39,"y":1.21},{"s":"GC_PR","t":1.53,"y":1.21},{"s":"GC_PR","t":1.6,"y":1.13},{"s":"GC_PR","t":1.67,"y":1.17},{"s":"GC_PR","t":1.73,"y":0.97},{"s":"GC_PR","t":1.79,"y":0.38},{"s":"GC_PR","t":1.87,"y":0.25},{"s":"GC_PR","t":2.01,"y":0.25},{"s":"GC_PR","t":2.18,"y":0.12},{"s":"GC_PR","t":2.35,"y":0.03},{"s":"GC_PR","t":2.58,"y":0},{"s":"GC_PR","t":3.0,"y":0}
  ]
},
"resolve": {"scale": {"color": "independent", "shape": "independent", "strokeDash": "independent", "strokeWidth": "independent"}, "legend": {"color": "independent", "shape": "independent", "strokeDash": "independent", "strokeWidth": "independent"}},
"spacing": 15,
"vconcat": [
 {
  "hconcat": [
   {
    "title": {"text": "(a) Positions (x,y).", "orient": "bottom", "font": "Liberation Serif", "fontSize": 16, "fontWeight": "normal", "offset": 21, "anchor": "middle", "dx": -8},
    "vconcat": [
     {
      "width": 235, "height": 187,
      "title": "Trajectory 1 - Diagonal",
      "data": {"name": "pos"},
      "encoding": {
        "x": {"field": "x", "type": "quantitative", "scale": {"domain": [-0.1, 1.1], "nice": false, "zero": false}, "axis": {"title": "X[m]", "values": [0, 0.2, 0.4, 0.6, 0.8, 1], "labelExpr": "'' + datum.value"}},
        "y": {"field": "y", "type": "quantitative", "scale": {"domain": [-0.1, 1.1], "nice": false, "zero": false}, "axis": {"title": "Y[m]", "values": [0, 0.2, 0.4, 0.6, 0.8, 1], "labelExpr": "'' + datum.value"}},
        "color": {"field": "s", "type": "nominal", "scale": {"domain": ["Ref", "G", "GC_FR", "GC_PR"], "range": ["#8a8ae0", "#e07a7a", "#606060", "#3adede"]}, "legend": {"orient": "top-left", "offset": 14, "symbolSize": 10, "symbolOffset": 2, "labelOffset": 6}}
      },
      "layer": [
        {"transform": [{"filter": "datum.s === 'Ref'"}], "mark": {"type": "line", "strokeWidth": 0.8}},
        {"transform": [{"filter": "datum.s !== 'Ref'"}], "mark": {"type": "point", "filled": false, "size": 20, "strokeWidth": 0.7},
         "encoding": {"shape": {"field": "s", "type": "nominal", "scale": {"domain": ["Ref", "G", "GC_FR", "GC_PR"], "range": ["M-2.2,0L2.2,0", "M-1,-1L1,1M-1,1L1,-1", "circle", "square"]}, "legend": {"orient": "top-left", "offset": 14, "symbolSize": 10, "symbolOffset": 2, "labelOffset": 6}}}}
      ]
     }
    ]
   },
   {
    "title": {"text": "(b) Angular positions θ.", "orient": "bottom", "font": "Liberation Serif", "fontSize": 16, "fontWeight": "normal", "offset": 21, "anchor": "middle", "dx": -53},
    "vconcat": [
     {
      "width": 235, "height": 185,
      "title": {"text": "Trajectory 1 - Diagonal", "fontWeight": "bold"},
      "data": {"name": "theta"},
      "encoding": {
        "x": {"field": "t", "type": "quantitative", "scale": {"domain": [0, 4], "nice": false}, "axis": {"title": "Time[sec]", "titleFontWeight": "bold", "values": [0, 0.5, 1, 1.5, 2, 2.5, 3, 3.5, 4], "labelExpr": "'' + datum.value"}},
        "y": {"field": "y", "type": "quantitative", "scale": {"domain": [-0.2, 1.6], "nice": false, "zero": false}, "axis": {"title": "θ[rad]", "values": [-0.2, 0, 0.2, 0.4, 0.6, 0.8, 1, 1.2, 1.4, 1.6], "labelExpr": "'' + datum.value"}},
        "color": {"field": "s", "type": "nominal", "scale": {"domain": ["pi/2", "G", "GC_FR", "GC_PR"], "range": ["#8a8ae0", "#e07a7a", "#606060", "#3adede"]}, "legend": {"orient": "none", "legendX": 195, "legendY": 2, "symbolSize": 10, "symbolOffset": 2, "labelOffset": 6}}
      },
      "layer": [
        {"transform": [{"filter": "datum.s === 'pi/2'"}], "mark": {"type": "line", "strokeWidth": 0.8}},
        {"transform": [{"filter": "datum.s !== 'pi/2'"}], "mark": {"type": "point", "filled": false, "size": 20, "strokeWidth": 0.7},
         "encoding": {"shape": {"field": "s", "type": "nominal", "scale": {"domain": ["pi/2", "G", "GC_FR", "GC_PR"], "range": ["M-2.2,0L2.2,0", "M-1,-1L1,1M-1,1L1,-1", "circle", "square"]}, "legend": {"orient": "none", "legendX": 195, "legendY": 2, "symbolSize": 10, "symbolOffset": 2, "labelOffset": 6}}}}
      ]
     }
    ]
   }
  ],
  "spacing": 68,
  "resolve": {"scale": {"color": "independent", "shape": "independent"}, "legend": {"color": "independent", "shape": "independent"}}
 },
 {
  "hconcat": [
   {
    "title": {"text": "(c) Errors (x,y,θ).", "orient": "bottom", "font": "Liberation Serif", "fontSize": 16, "fontWeight": "normal", "offset": 8, "anchor": "middle", "dx": -14},
    "spacing": 13,
    "resolve": {"scale": {"color": "independent", "strokeDash": "independent", "strokeWidth": "independent"}, "legend": {"color": "independent", "strokeDash": "independent", "strokeWidth": "independent"}},
    "vconcat": [
     {
      "width": 235, "height": 78,
      "title": "Errors",
      "data": {"name": "exy"},
      "mark": {"type": "line"},
      "encoding": {
        "x": {"field": "t", "type": "quantitative", "scale": {"domain": [0, 4], "nice": false}, "axis": {"title": null, "values": [0, 0.5, 1, 1.5, 2, 2.5, 3, 3.5, 4], "labelExpr": "'' + datum.value"}},
        "y": {"field": "y", "type": "quantitative", "scale": {"domain": [0, 0.04], "nice": false}, "axis": {"title": "Error XY (m)", "values": [0, 0.01, 0.02, 0.03, 0.04], "labelExpr": "'' + datum.value"}},
        "color": {"field": "s", "type": "nominal", "scale": {"domain": ["G", "GC_FR", "GC_PR"], "range": ["#e8262a", "#a8a8a8", "#2ee3e6"]}, "legend": {"orient": "top-right", "offset": 2, "symbolType": "M-2.8,0L2.8,0", "symbolSize": 16, "symbolOffset": 4, "labelOffset": 10}},
        "strokeDash": {"field": "s", "type": "nominal", "scale": {"domain": ["G", "GC_FR", "GC_PR"], "range": [[1, 0], [3, 2], [5, 2, 1, 2]]}, "legend": {"orient": "top-right", "offset": 2, "symbolType": "M-2.8,0L2.8,0", "symbolSize": 16, "symbolOffset": 4, "labelOffset": 10}},
        "strokeWidth": {"field": "s", "type": "nominal", "scale": {"domain": ["G", "GC_FR", "GC_PR"], "range": [2, 1, 1.5]}, "legend": {"orient": "top-right", "offset": 2, "symbolType": "M-2.8,0L2.8,0", "symbolSize": 16, "symbolOffset": 4, "labelOffset": 10}}
      }
     },
     {
      "width": 235, "height": 78,
      "data": {"name": "eth"},
      "mark": {"type": "line"},
      "encoding": {
        "x": {"field": "t", "type": "quantitative", "scale": {"domain": [0, 4], "nice": false}, "axis": {"title": "time(sec)", "values": [0, 0.5, 1, 1.5, 2, 2.5, 3, 3.5, 4], "labelExpr": "'' + datum.value"}},
        "y": {"field": "y", "type": "quantitative", "scale": {"domain": [0, 0.2], "nice": false}, "axis": {"title": "Error θ (rad)", "values": [0, 0.05, 0.1, 0.15, 0.2], "labelExpr": "'' + datum.value"}},
        "color": {"field": "s", "type": "nominal", "scale": {"domain": ["G", "GC_FR", "GC_PR"], "range": ["#e8262a", "#a8a8a8", "#2ee3e6"]}, "legend": {"orient": "top-right", "offset": 2, "symbolType": "M-2.8,0L2.8,0", "symbolSize": 16, "symbolOffset": 4, "labelOffset": 10}},
        "strokeDash": {"field": "s", "type": "nominal", "scale": {"domain": ["G", "GC_FR", "GC_PR"], "range": [[1, 0], [3, 2], [5, 2, 1, 2]]}, "legend": {"orient": "top-right", "offset": 2, "symbolType": "M-2.8,0L2.8,0", "symbolSize": 16, "symbolOffset": 4, "labelOffset": 10}},
        "strokeWidth": {"field": "s", "type": "nominal", "scale": {"domain": ["G", "GC_FR", "GC_PR"], "range": [2, 1, 1.5]}, "legend": {"orient": "top-right", "offset": 2, "symbolType": "M-2.8,0L2.8,0", "symbolSize": 16, "symbolOffset": 4, "labelOffset": 10}}
      }
     }
    ]
   },
   {
    "title": {"text": "(d) Robot velocities.", "orient": "bottom", "font": "Liberation Serif", "fontSize": 16, "fontWeight": "normal", "offset": 8, "anchor": "middle", "dx": -46},
    "spacing": 6,
    "resolve": {"scale": {"color": "independent", "strokeDash": "independent", "strokeWidth": "independent"}, "legend": {"color": "independent", "strokeDash": "independent", "strokeWidth": "independent"}},
    "vconcat": [
     {
      "width": 235, "height": 51,
      "title": {"text": "Robot velocities", "fontWeight": "bold"},
      "data": {"name": "v"},
      "mark": {"type": "line"},
      "encoding": {
        "x": {"field": "t", "type": "quantitative", "scale": {"domain": [0, 4], "nice": false}, "axis": {"title": null, "values": [0, 0.5, 1, 1.5, 2, 2.5, 3, 3.5, 4], "labelExpr": "'' + datum.value"}},
        "y": {"field": "y", "type": "quantitative", "scale": {"domain": [0, 1.5], "nice": false}, "axis": {"title": "v", "values": [0, 0.5, 1, 1.5], "labelExpr": "'' + datum.value"}},
        "color": {"field": "s", "type": "nominal", "scale": {"domain": ["G", "GC_FR", "GC_PR"], "range": ["#e8262a", "#a8a8a8", "#2ee3e6"]}, "legend": {"orient": "top-right", "offset": 1, "symbolType": "M-2.8,0L2.8,0", "symbolSize": 16, "symbolOffset": 4, "labelOffset": 10}},
        "strokeDash": {"field": "s", "type": "nominal", "scale": {"domain": ["G", "GC_FR", "GC_PR"], "range": [[1, 0], [3, 2], [5, 2, 1, 2]]}, "legend": {"orient": "top-right", "offset": 1, "symbolType": "M-2.8,0L2.8,0", "symbolSize": 16, "symbolOffset": 4, "labelOffset": 10}},
        "strokeWidth": {"field": "s", "type": "nominal", "scale": {"domain": ["G", "GC_FR", "GC_PR"], "range": [1.5, 1, 1.3]}, "legend": {"orient": "top-right", "offset": 1, "symbolType": "M-2.8,0L2.8,0", "symbolSize": 16, "symbolOffset": 4, "labelOffset": 10}}
      }
     },
     {
      "width": 235, "height": 51,
      "data": {"name": "vn"},
      "mark": {"type": "line"},
      "encoding": {
        "x": {"field": "t", "type": "quantitative", "scale": {"domain": [0, 4], "nice": false}, "axis": {"title": null, "values": [0, 0.5, 1, 1.5, 2, 2.5, 3, 3.5, 4], "labelExpr": "'' + datum.value"}},
        "y": {"field": "y", "type": "quantitative", "scale": {"domain": [-1, 1], "nice": false}, "axis": {"title": "vn", "values": [-1, -0.5, 0, 0.5, 1], "labelExpr": "'' + datum.value"}},
        "color": {"field": "s", "type": "nominal", "scale": {"domain": ["G", "GC_FR", "GC_PR"], "range": ["#e8262a", "#a8a8a8", "#2ee3e6"]}, "legend": {"orient": "top-right", "offset": 1, "symbolType": "M-2.8,0L2.8,0", "symbolSize": 16, "symbolOffset": 4, "labelOffset": 10}},
        "strokeDash": {"field": "s", "type": "nominal", "scale": {"domain": ["G", "GC_FR", "GC_PR"], "range": [[1, 0], [3, 2], [5, 2, 1, 2]]}, "legend": {"orient": "top-right", "offset": 1, "symbolType": "M-2.8,0L2.8,0", "symbolSize": 16, "symbolOffset": 4, "labelOffset": 10}},
        "strokeWidth": {"field": "s", "type": "nominal", "scale": {"domain": ["G", "GC_FR", "GC_PR"], "range": [1.5, 1, 1.3]}, "legend": {"orient": "top-right", "offset": 1, "symbolType": "M-2.8,0L2.8,0", "symbolSize": 16, "symbolOffset": 4, "labelOffset": 10}}
      }
     },
     {
      "width": 235, "height": 51,
      "data": {"name": "w"},
      "mark": {"type": "line"},
      "encoding": {
        "x": {"field": "t", "type": "quantitative", "scale": {"domain": [0, 4], "nice": false}, "axis": {"title": "time[sec]", "values": [0, 0.5, 1, 1.5, 2, 2.5, 3, 3.5, 4], "labelExpr": "'' + datum.value"}},
        "y": {"field": "y", "type": "quantitative", "scale": {"domain": [-0.5, 1.5], "nice": false}, "axis": {"title": "w", "values": [-0.5, 0, 0.5, 1, 1.5], "labelExpr": "'' + datum.value"}},
        "color": {"field": "s", "type": "nominal", "scale": {"domain": ["G", "GC_FR", "GC_PR"], "range": ["#e8262a", "#a8a8a8", "#2ee3e6"]}, "legend": {"orient": "top-right", "offset": 1, "symbolType": "M-2.8,0L2.8,0", "symbolSize": 16, "symbolOffset": 4, "labelOffset": 10}},
        "strokeDash": {"field": "s", "type": "nominal", "scale": {"domain": ["G", "GC_FR", "GC_PR"], "range": [[1, 0], [3, 2], [5, 2, 1, 2]]}, "legend": {"orient": "top-right", "offset": 1, "symbolType": "M-2.8,0L2.8,0", "symbolSize": 16, "symbolOffset": 4, "labelOffset": 10}},
        "strokeWidth": {"field": "s", "type": "nominal", "scale": {"domain": ["G", "GC_FR", "GC_PR"], "range": [1.5, 1, 1.3]}, "legend": {"orient": "top-right", "offset": 1, "symbolType": "M-2.8,0L2.8,0", "symbolSize": 16, "symbolOffset": 4, "labelOffset": 10}}
      }
     }
    ]
   }
  ],
  "spacing": 64,
  "resolve": {"scale": {"color": "independent", "strokeDash": "independent", "strokeWidth": "independent"}, "legend": {"color": "independent", "strokeDash": "independent", "strokeWidth": "independent"}}
 }
]
}
